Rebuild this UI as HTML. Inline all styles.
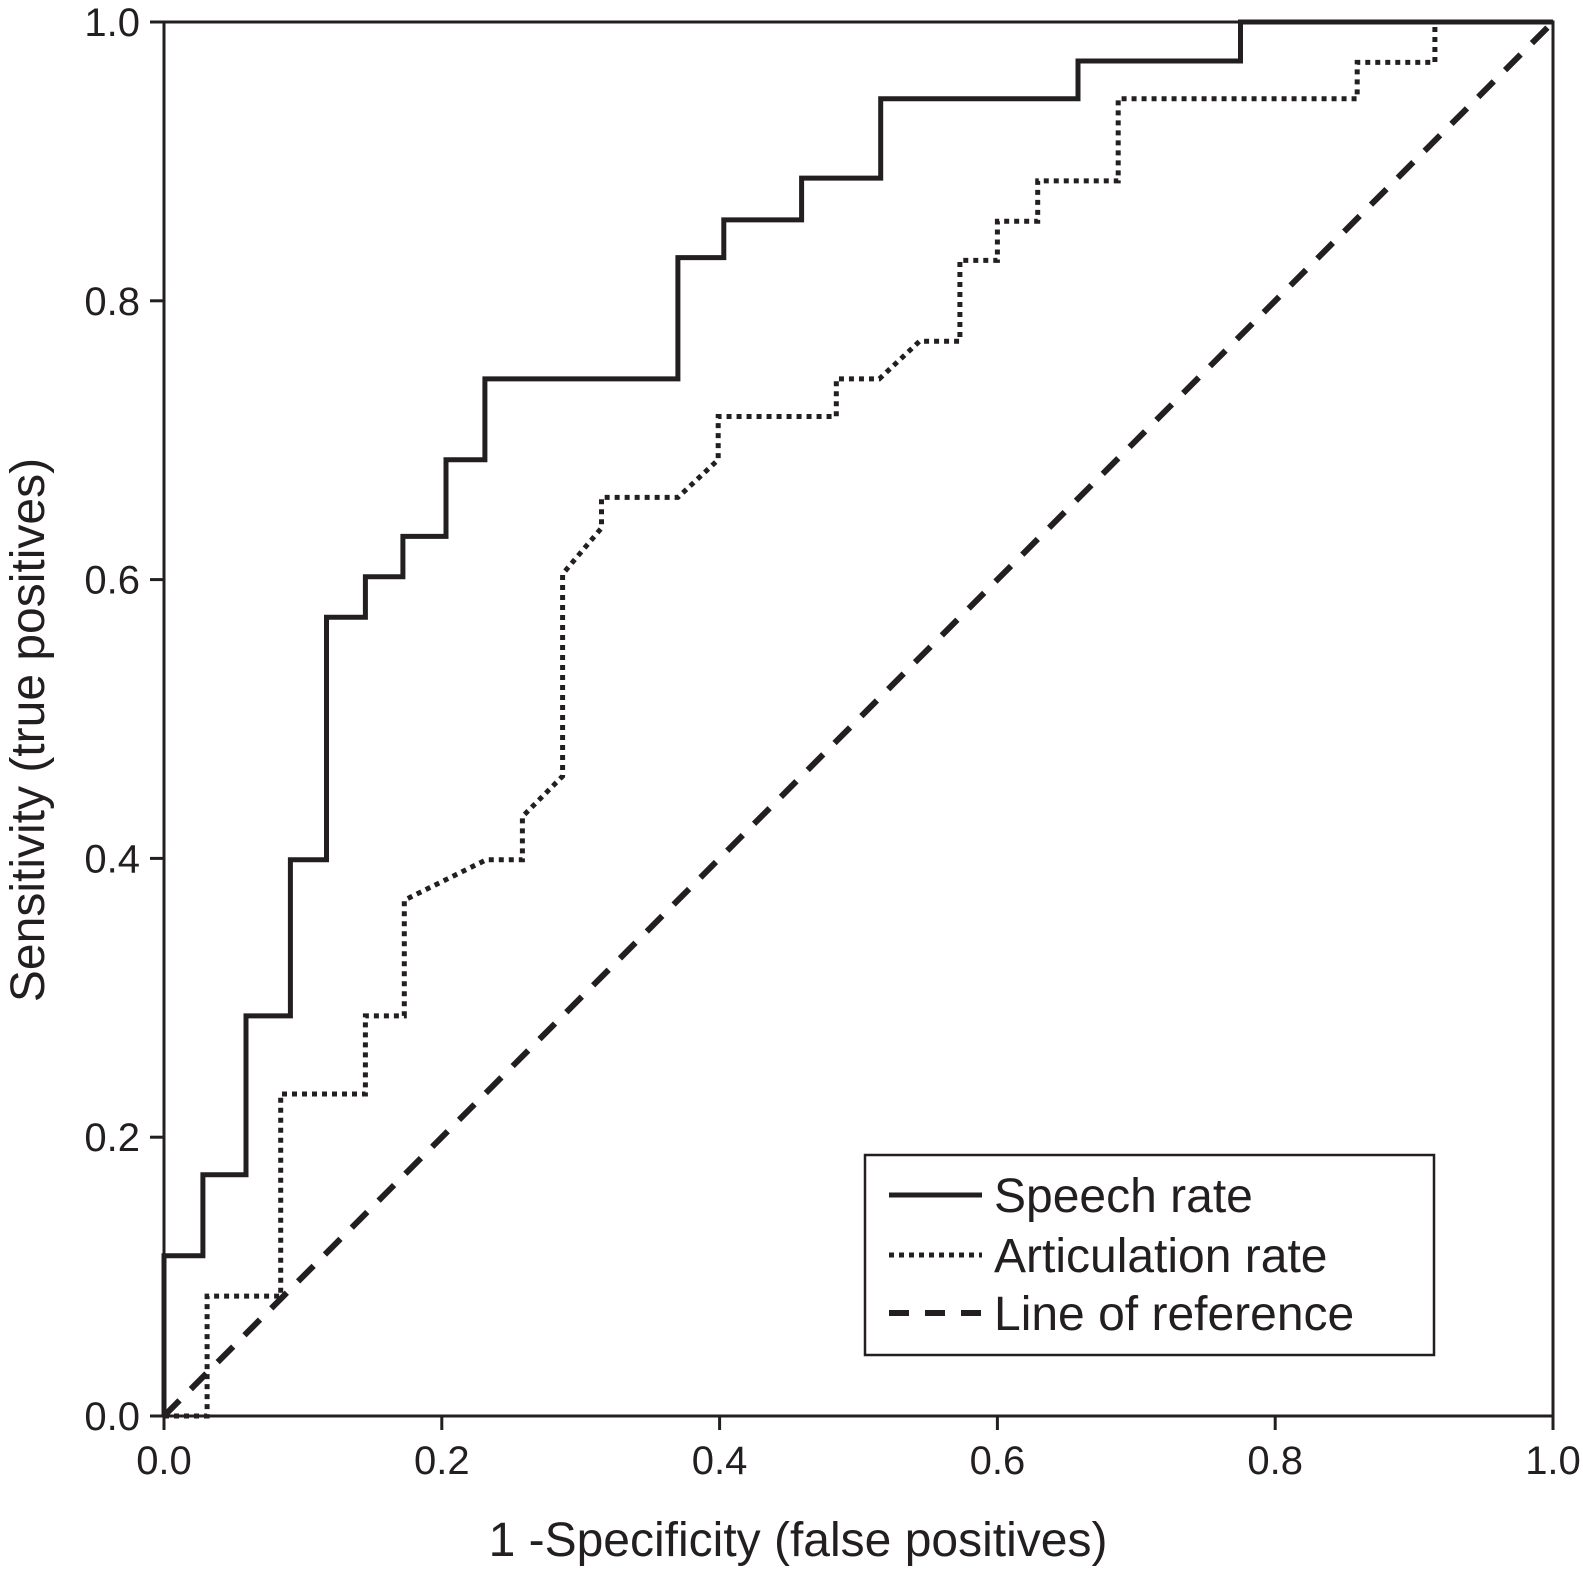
<!DOCTYPE html>
<html><head><meta charset="utf-8"><style>
html,body{margin:0;padding:0;background:#fff}
svg{display:block;font-family:"Liberation Sans",Arial,sans-serif}
</style></head><body>
<svg id="chart" width="1583" height="1577" viewBox="0 0 1583 1577">
<g id="axes"></g>
<g id="series"></g>
<text x="798" y="1556" font-size="48" text-anchor="middle" fill="#231f20">1 -Specificity (false positives)</text>
<text transform="translate(44,730) rotate(-90)" font-size="48" text-anchor="middle" fill="#231f20">Sensitivity (true positives)</text>
<g>
<rect x="865" y="1155" width="569" height="200" fill="#fff" stroke="#231f20" stroke-width="2.5"/>
<line x1="889" y1="1195" x2="982" y2="1195" stroke="#231f20" stroke-width="5"/>
<text x="994" y="1212" font-size="48" fill="#231f20">Speech rate</text>
<line x1="889" y1="1255" x2="982" y2="1255" stroke="#231f20" stroke-width="5" stroke-dasharray="5,5"/>
<text x="994" y="1272" font-size="48" fill="#231f20">Articulation rate</text>
<line x1="889" y1="1313" x2="982" y2="1313" stroke="#231f20" stroke-width="6" stroke-dasharray="20,16"/>
<text x="994" y="1330" font-size="48" fill="#231f20">Line of reference</text>
</g>
</svg>
<script>
const ticks = [0, 0.2, 0.4, 0.6, 0.8, 1.0];
const tickLabels = ["0.0","0.2","0.4","0.6","0.8","1.0"];
const speechX = [0,0,0.028,0.028,0.059,0.059,0.091,0.091,0.117,0.117,0.145,0.145,0.172,0.172,0.203,0.203,0.231,0.231,0.37,0.37,0.403,0.403,0.459,0.459,0.516,0.516,0.658,0.658,0.775,0.775,1];
const speechY = [0,0.115,0.115,0.173,0.173,0.287,0.287,0.399,0.399,0.573,0.573,0.602,0.602,0.631,0.631,0.686,0.686,0.744,0.744,0.831,0.831,0.858,0.858,0.888,0.888,0.945,0.945,0.972,0.972,1,1];
const artX = [0,0.031,0.031,0.084,0.084,0.145,0.145,0.173,0.173,0.232,0.258,0.258,0.287,0.287,0.315,0.315,0.37,0.399,0.399,0.484,0.484,0.515,0.544,0.573,0.573,0.6,0.6,0.629,0.629,0.687,0.687,0.859,0.859,0.915,0.915,1];
const artY = [0,0,0.086,0.086,0.231,0.231,0.287,0.287,0.37,0.399,0.399,0.43,0.459,0.604,0.637,0.659,0.659,0.686,0.717,0.717,0.744,0.744,0.771,0.771,0.829,0.829,0.857,0.857,0.886,0.886,0.945,0.945,0.971,0.971,1,1];
const refX = [0,1];
const refY = [0,1];
const NS="http://www.w3.org/2000/svg";
const X0=164,X1=1553,Y0=1416,Y1=22;
const sx=v=>X0+v*(X1-X0), sy=v=>Y0-v*(Y0-Y1);
const axes=document.getElementById('axes'), series=document.getElementById('series');
function mk(tag,attrs,parent){const e=document.createElementNS(NS,tag);for(const k in attrs)e.setAttribute(k,attrs[k]);parent.appendChild(e);return e;}
const frame=mk('rect',{x:X0,y:Y1,width:X1-X0,height:Y0-Y1,fill:'none',stroke:'#231f20','stroke-width':3},axes);


ticks.forEach((t,i)=>{
 const a=mk('line',{x1:sx(t),x2:sx(t),y1:Y0,y2:Y0+14,stroke:'#231f20','stroke-width':3},axes);
 
 
 const b=mk('line',{x1:X0-14,x2:X0,y1:sy(t),y2:sy(t),stroke:'#231f20','stroke-width':3},axes);
 
 
 const tx=mk('text',{x:sx(t),y:Y0+58,'font-size':40,'text-anchor':'middle',fill:'#231f20'},axes);tx.textContent=tickLabels[i];
 
 
 const ty=mk('text',{x:X0-24,y:sy(t)+14,'font-size':40,'text-anchor':'end',fill:'#231f20'},axes);ty.textContent=tickLabels[i];
 
 
});
function line(xs,ys,attrs,name){
 const pts=xs.map((x,i)=>sx(x).toFixed(1)+','+sy(ys[i]).toFixed(1)).join(' ');
 const p=mk('polyline',Object.assign({points:pts,fill:'none',stroke:'#231f20'},attrs),series);
 
 
}
line(refX,refY,{'stroke-width':6,'stroke-dasharray':'22,16'},'reference-line');
line(artX,artY,{'stroke-width':5,'stroke-dasharray':'5,5'},'articulation-rate-line');
line(speechX,speechY,{'stroke-width':5,'stroke-linejoin':'miter'},'speech-rate-line');
</script>
</body></html>
